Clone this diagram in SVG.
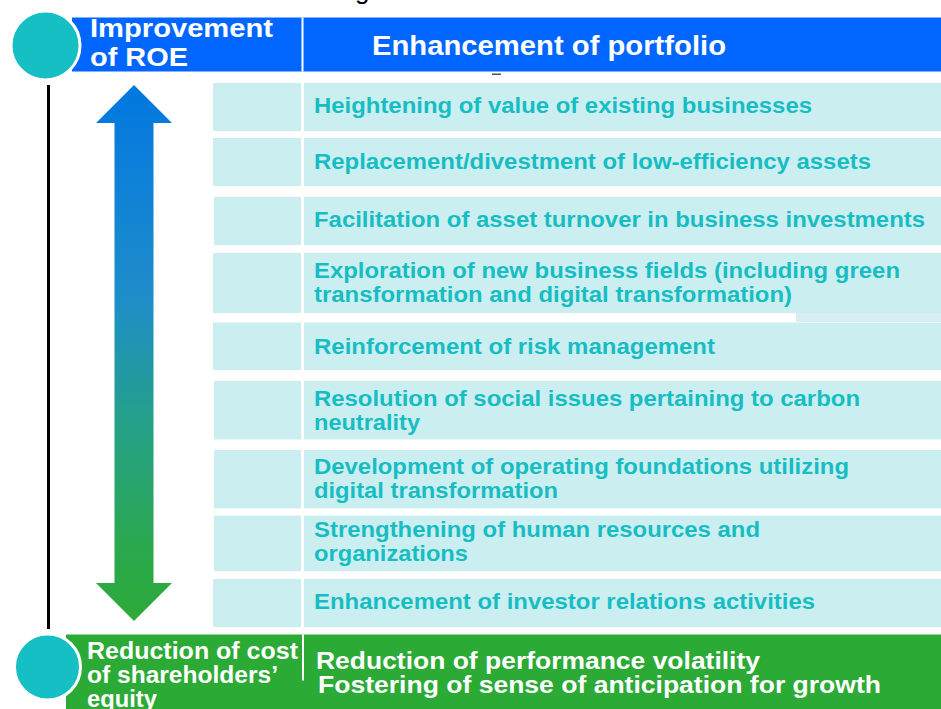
<svg xmlns="http://www.w3.org/2000/svg" width="941" height="709" viewBox="0 0 941 709">
<style>
.row{fill:#CBEFF0}
.rt{font-family:"Liberation Sans",Arial,sans-serif;font-weight:bold;font-size:22.5px;fill:#17BDC3}
.wt{font-family:"Liberation Sans",Arial,sans-serif;font-weight:bold;fill:#FFFFFF}
.sep{fill:#FFFFFF}
.dot{fill:#16BFC4;stroke:#FFFFFF;stroke-width:3}
</style>
<defs>
<linearGradient id="ag" gradientUnits="userSpaceOnUse" x1="0" y1="85" x2="0" y2="621">
<stop offset="0" stop-color="#0078DF"/>
<stop offset="0.1" stop-color="#0A7CDC"/>
<stop offset="0.4" stop-color="#1E8EC8"/>
<stop offset="0.62" stop-color="#24A08C"/>
<stop offset="0.86" stop-color="#2AA84E"/>
<stop offset="1" stop-color="#2DAA38"/>
</linearGradient>
</defs>
<rect width="941" height="709" fill="#FFFFFF"/>
<text x="355" y="-1" font-family="Liberation Sans, Arial, sans-serif" font-size="26" fill="#000000">g</text>
<rect x="492" y="73.5" width="9" height="1.5" fill="#555555"/>

<g id="connectors">
<line x1="48.5" y1="85" x2="48.5" y2="629" stroke="#000000" stroke-width="3"/>
<polygon points="134,85 172,123 153.5,123 153.5,583 172,583 134,621 96,583 114.5,583 114.5,123 96,123" fill="url(#ag)"/>
</g>

<g id="header-roe">
<rect x="72" y="17.5" width="869" height="54" fill="#0066FF"/>
<rect class="sep" x="301.5" y="17.5" width="2" height="54"/>
<circle class="dot" cx="45.5" cy="45.5" r="34.5"/>
<text class="wt" x="90" y="37" font-size="26" textLength="183" lengthAdjust="spacingAndGlyphs">Improvement</text>
<text class="wt" x="90" y="66" font-size="26" textLength="98" lengthAdjust="spacingAndGlyphs">of ROE</text>
</g>
<g id="header-portfolio">
<text class="wt" x="372" y="55" font-size="28" textLength="354" lengthAdjust="spacingAndGlyphs">Enhancement of portfolio</text>
</g>

<g id="row1">
<rect class="row" x="213" y="83" width="88" height="48"/>
<rect class="row" x="304" y="83" width="637" height="48"/>
<text class="rt" x="314" y="113" textLength="498" lengthAdjust="spacingAndGlyphs">Heightening of value of existing businesses</text>
</g>
<g id="row2">
<rect class="row" x="213" y="138" width="88" height="48"/>
<rect class="row" x="304" y="138" width="637" height="48"/>
<text class="rt" x="314" y="168.5" textLength="557" lengthAdjust="spacingAndGlyphs">Replacement/divestment of low-efficiency assets</text>
</g>
<g id="row3">
<rect class="row" x="214" y="197" width="87" height="48"/>
<rect class="row" x="304" y="197" width="637" height="48"/>
<text class="rt" x="314" y="227" textLength="611" lengthAdjust="spacingAndGlyphs">Facilitation of asset turnover in business investments</text>
</g>
<g id="row4">
<rect class="row" x="213" y="253" width="88" height="60"/>
<rect class="row" x="304" y="253" width="637" height="60"/>
<rect x="796" y="313" width="145" height="9" fill="#DAEDF2"/>
<text class="rt" x="314" y="278" textLength="586" lengthAdjust="spacingAndGlyphs">Exploration of new business fields (including green</text>
<text class="rt" x="314" y="302" textLength="478" lengthAdjust="spacingAndGlyphs">transformation and digital transformation)</text>
</g>
<g id="row5">
<rect class="row" x="213" y="322.5" width="88" height="47.5"/>
<rect class="row" x="304" y="322.5" width="637" height="47.5"/>
<text class="rt" x="314" y="354" textLength="401" lengthAdjust="spacingAndGlyphs">Reinforcement of risk management</text>
</g>
<g id="row6">
<rect class="row" x="214" y="381" width="87" height="58.5"/>
<rect class="row" x="304" y="381" width="637" height="58.5"/>
<text class="rt" x="314" y="405.5" textLength="546" lengthAdjust="spacingAndGlyphs">Resolution of social issues pertaining to carbon</text>
<text class="rt" x="314" y="429.5" textLength="106" lengthAdjust="spacingAndGlyphs">neutrality</text>
</g>
<g id="row7">
<rect class="row" x="214" y="450" width="87" height="58.5"/>
<rect class="row" x="304" y="450" width="637" height="58.5"/>
<text class="rt" x="314" y="473.5" textLength="535" lengthAdjust="spacingAndGlyphs">Development of operating foundations utilizing</text>
<text class="rt" x="314" y="497.5" textLength="244" lengthAdjust="spacingAndGlyphs">digital transformation</text>
</g>
<g id="row8">
<rect class="row" x="214" y="515.5" width="87" height="55.5"/>
<rect class="row" x="304" y="515.5" width="637" height="55.5"/>
<text class="rt" x="314" y="537" textLength="446" lengthAdjust="spacingAndGlyphs">Strengthening of human resources and</text>
<text class="rt" x="314" y="561" textLength="154" lengthAdjust="spacingAndGlyphs">organizations</text>
</g>
<g id="row9">
<rect class="row" x="213" y="579" width="88" height="48"/>
<rect class="row" x="304" y="579" width="637" height="48"/>
<text class="rt" x="314" y="609" textLength="501" lengthAdjust="spacingAndGlyphs">Enhancement of investor relations activities</text>
</g>

<g id="footer-equity">
<rect x="66" y="634.5" width="875" height="74.5" fill="#2CAA36"/>
<rect class="sep" x="302" y="634.5" width="2" height="46"/>
<circle class="dot" cx="47.5" cy="667" r="33"/>
<text class="wt" x="87" y="659" font-size="23" textLength="211" lengthAdjust="spacingAndGlyphs">Reduction of cost</text>
<text class="wt" x="87" y="683" font-size="23" textLength="191" lengthAdjust="spacingAndGlyphs">of shareholders’</text>
<text class="wt" x="87" y="707" font-size="23" textLength="70" lengthAdjust="spacingAndGlyphs">equity</text>
</g>
<g id="footer-volatility">
<text class="wt" x="316" y="668.5" font-size="23" textLength="444" lengthAdjust="spacingAndGlyphs">Reduction of performance volatility</text>
<text class="wt" x="318" y="692.5" font-size="23" textLength="563" lengthAdjust="spacingAndGlyphs">Fostering of sense of anticipation for growth</text>
</g>
</svg>
